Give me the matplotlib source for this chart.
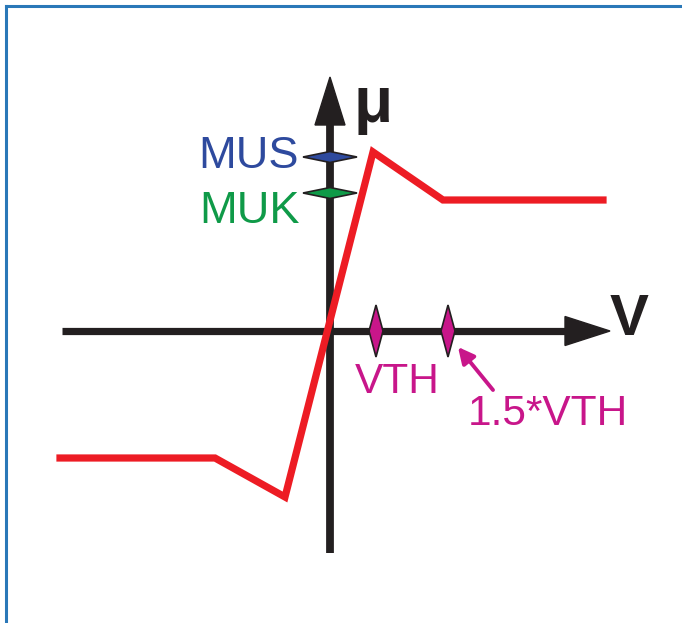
import matplotlib
matplotlib.use("Agg")
import matplotlib.pyplot as plt
from matplotlib.patches import Polygon

plt.rcParams['font.family'] = ['Liberation Sans', 'DejaVu Sans']

# Friction curve (velocity, mu) in diagram units
velocity = [-270, -115, -45, 43, 113, 273]
mu = [-127, -127, -166, 179, 131, 131]

# Marker levels
mus_level = 174
muk_level = 138
vth = 46
vth15 = 118

# Axis extents
x_axis = [-268, 280]
y_axis = [-222, 254]

RED = '#ed1c24'
BLACK = '#231f20'
BLUE = '#2e4a9e'
GREEN = '#0f9a48'
MAG = '#c8168a'
FRAME = '#2a78b8'

fig = plt.figure(figsize=(6.82, 6.23), dpi=100)
ax = fig.add_axes([0, 0, 1, 1])
ax.set_xlim(-330, 352)
ax.set_ylim(-292, 331)
ax.axis('off')

# frame (top & left)
fig.add_artist(plt.Line2D([6/682, 6/682], [0, 1 - 6/623], transform=fig.transFigure, color=FRAME, lw=2.2))
fig.add_artist(plt.Line2D([6/682, 1], [1 - 6/623, 1 - 6/623], transform=fig.transFigure, color=FRAME, lw=2.2))

# axes lines
hl = 45
hw = 14.5
ax.plot([x_axis[0], x_axis[1] - hl + 2], [0, 0], color=BLACK, lw=5.2, solid_capstyle='butt', zorder=2)
ax.add_patch(Polygon([[x_axis[1], 0], [x_axis[1] - hl, hw], [x_axis[1] - hl, -hw]], closed=True, color=BLACK, zorder=2))
ax.plot([0, 0], [y_axis[0], y_axis[1] - 48 + 2], color=BLACK, lw=5.6, solid_capstyle='butt', zorder=2)
ax.add_patch(Polygon([[0, y_axis[1]], [-15, y_axis[1] - 48], [15, y_axis[1] - 48]], closed=True, color=BLACK, zorder=2))

# red curve
ax.plot(velocity, mu, color=RED, lw=5.2, solid_joinstyle='miter', zorder=3)

# diamonds
def diamond(cx, cy, hx, hy, color):
    ax.add_patch(Polygon([[cx - hx, cy], [cx, cy + hy], [cx + hx, cy], [cx, cy - hy]], closed=True,
                         facecolor=color, edgecolor=BLACK, lw=1.2, zorder=4))

diamond(0, mus_level, 27, 5.5, BLUE)
diamond(0, muk_level, 27, 5.5, GREEN)
diamond(vth, 0, 7, 26, MAG)
diamond(vth15, 0, 7, 26, MAG)

# labels
ax.text(-31, 163, 'MUS', color=BLUE, fontsize=32.5, ha='right', va='baseline')
ax.text(-30, 108, 'MUK', color=GREEN, fontsize=32.5, ha='right', va='baseline')
ax.text(25, -62, 'VTH', color=MAG, fontsize=30.5, ha='left', va='baseline')
ax.text(138, -94, '1.5*VTH', color=MAG, fontsize=30.5, ha='left', va='baseline')
ax.text(23, 209, 'μ', color=BLACK, fontsize=46, fontweight='bold', ha='left', va='baseline')
ax.text(280, -4, 'V', color=BLACK, fontsize=42, fontweight='bold', ha='left', va='baseline')

ax.annotate('', xy=(vth15 + 10, -16), xytext=(163, -59),
            arrowprops=dict(arrowstyle='-|>', color=MAG, lw=2.8, mutation_scale=24, shrinkA=0, shrinkB=0))

fig.savefig('out.png', dpi=100)
